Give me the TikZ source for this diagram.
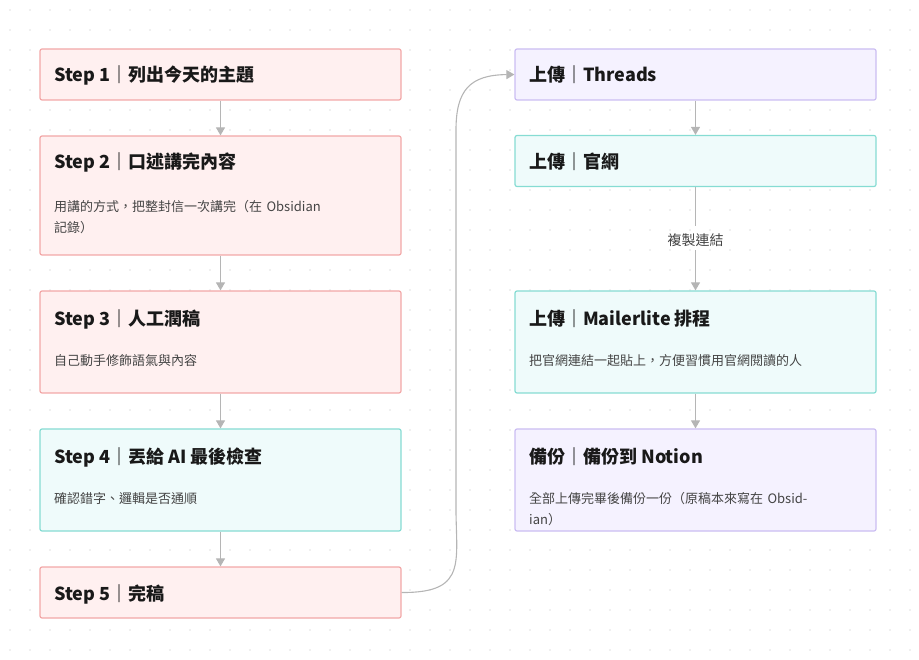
\documentclass[tikz,border=0pt]{standalone}
\usepackage{fontspec}
\setmainfont{Noto Sans CJK TC}
\usetikzlibrary{arrows.meta}
\definecolor{pinkfill}{HTML}{FFF0F0}
\definecolor{pinkline}{HTML}{F2A7A7}
\definecolor{cyanfill}{HTML}{EFFBFB}
\definecolor{cyanline}{HTML}{86DCD3}
\definecolor{purpfill}{HTML}{F5F2FF}
\definecolor{purpline}{HTML}{CBBDF2}
\definecolor{linkgray}{HTML}{B5B5B5}
\definecolor{subgray}{HTML}{444444}
\tikzset{
  box/.style = {draw, line width=1.2pt, rounded corners=2pt, minimum width=361pt, inner sep=0pt},
  pinkbox/.style = {box, fill=pinkfill, draw=pinkline},
  cyanbox/.style = {box, fill=cyanfill, draw=cyanline},
  purpbox/.style = {box, fill=purpfill, draw=purpline},
  title/.style = {anchor=west, inner sep=0pt, font=\fontsize{18}{22}\selectfont\bfseries, text=black!90},
  sub/.style = {anchor=north west, inner sep=0pt, font=\fontsize{13}{21}\selectfont, text=subgray, text width=305pt, align=left},
  link/.style = {draw=linkgray, line width=1.1pt, -{Triangle[length=8pt,width=9pt]}}
}
\begin{document}
\begin{tikzpicture}[x=1pt,y=-1pt]
\useasboundingbox (0,0) rectangle (919,660);
% dotted background
\foreach \i in {0,...,45} \foreach \j in {0,...,32}
  \fill[black!12] (10+20*\i,10+20*\j) circle (0.8pt);
% left column
\node[pinkbox, minimum height=51pt] (s1) at (220.5,74.5) {};
\node[pinkbox, minimum height=119pt] (s2) at (220.5,195.5) {};
\node[pinkbox, minimum height=102pt] (s3) at (220.5,342) {};
\node[cyanbox, minimum height=102pt] (s4) at (220.5,480) {};
\node[pinkbox, minimum height=51pt] (s5) at (220.5,592.5) {};
\node[title] at (54,75) {Step 1｜列出今天的主題};
\node[title] at (54,162) {Step 2｜口述講完內容};
\node[sub] at (54,200) {用講的方式，把整封信一次講完（在 Obsidian 記錄）};
\node[title] at (54,319) {Step 3｜人工潤稿};
\node[sub] at (54,354) {自己動手修飾語氣與內容};
\node[title] at (54,457) {Step 4｜丟給 AI 最後檢查};
\node[sub] at (54,492) {確認錯字、邏輯是否通順};
\node[title] at (54,594) {Step 5｜完稿};
% right column
\node[purpbox, minimum height=51pt] (r1) at (695.5,74.5) {};
\node[cyanbox, minimum height=51pt] (r2) at (695.5,161) {};
\node[cyanbox, minimum height=102pt] (r3) at (695.5,342) {};
\node[purpbox, minimum height=102pt] (r4) at (695.5,480) {};
\node[title] at (529,75) {上傳｜Threads};
\node[title] at (529,162) {上傳｜官網};
\node[title] at (529,319) {上傳｜Mailerlite 排程};
\node[sub] at (529,354) {把官網連結一起貼上，方便習慣用官網閱讀的人};
\node[title] at (529,457) {備份｜備份到 Notion};
\node[sub] at (529,492) {全部上傳完畢後備份一份（原稿本來寫在 Obsidian）};
% connectors
\draw[link] (s1) -- (s2);
\draw[link] (s2) -- (s3);
\draw[link] (s3) -- (s4);
\draw[link] (s4) -- (s5);
\draw[link] (r1) -- (r2);
\draw[link] (r3) -- (r4);
\draw[draw=linkgray, line width=1.1pt] (r2) -- (695.5,226);
\node[font=\fontsize{14}{16}\selectfont, text=subgray] (lbl) at (695.5,240) {複製連結};
\draw[link] (lbl) -- (r3);
\draw[link] (s5.east) .. controls (470,593) and (455,560) .. (456,500)
  -- (456,130) .. controls (456,90) and (470,75) .. (r1.west);
\end{tikzpicture}
\end{document}
